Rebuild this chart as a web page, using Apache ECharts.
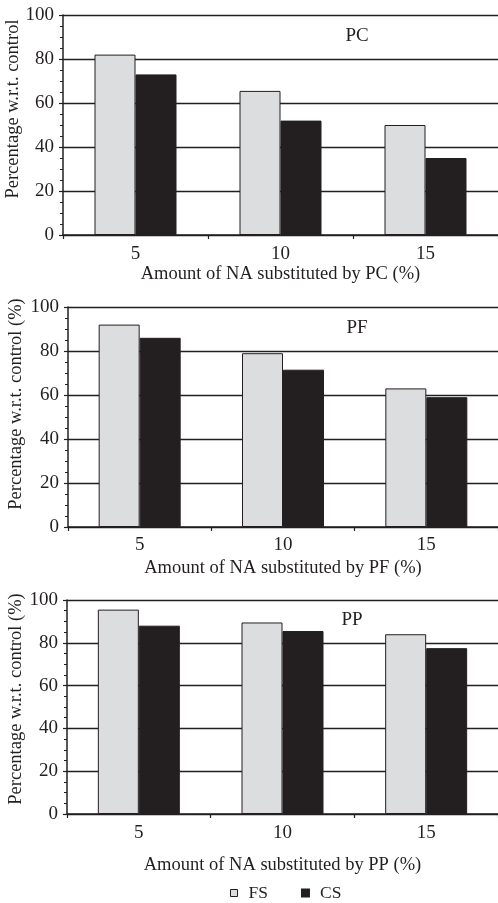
<!DOCTYPE html>
<html>
<head>
<meta charset="utf-8">
<script src="https://cdn.jsdelivr.net/npm/echarts@6/dist/echarts.min.js"></script>
<style>
html,body{margin:0;padding:0;background:#fff;}
#chart{width:498px;height:903px;}
</style>
</head>
<body>
<div id="chart"></div>
<script>
var categories = ['5', '10', '15'];
var seriesNames = ['FS', 'CS'];
var panelLabels = ['PC', 'PF', 'PP'];
var xNames = ['Amount of NA substituted by PC (%)', 'Amount of NA substituted by PF (%)', 'Amount of NA substituted by PP (%)'];
var yNames = ['Percentage w.r.t. control', 'Percentage w.r.t. control (%)', 'Percentage w.r.t. control (%)'];
var pcFS = [82, 65.5, 50];
var pcCS = [73, 52, 35];
var pfFS = [92, 79, 63];
var pfCS = [86, 71.5, 59];
var ppFS = [95.5, 89.5, 84];
var ppCS = [88, 85.5, 77.5];

var dataFS = [pcFS, pfFS, ppFS];
var dataCS = [pcCS, pfCS, ppCS];

var FONT = 'Liberation Serif';
var INK = '#231f20';
var LIGHT = '#dcdddf';

var grids = [
  {left: 63, top: 15, right: 0, height: 220, containLabel: false, outerBoundsMode: 'none'},
  {left: 68, top: 307, right: 0, height: 220, containLabel: false, outerBoundsMode: 'none'},
  {left: 67, top: 600, right: 0, height: 214, containLabel: false, outerBoundsMode: 'none'}
];
var xNameGaps = [30, 32, 42];
var xLabelMargins = [10, 9, 10];
var yNameGaps = [40, 42, 41];
var yNameShift = [32, 26, 16];
var labelPos = [[357, 27], [357, 319], [352, 611]];

var xAxes = [], yAxes = [], series = [], titles = [];
for (var i = 0; i < 3; i++) {
  xAxes.push({
    type: 'category', gridIndex: i, data: categories,
    name: xNames[i], nameLocation: 'middle', nameGap: xNameGaps[i], nameMoveOverlap: false,
    nameTextStyle: {fontFamily: FONT, fontSize: 18.5, color: INK},
    axisLine: {lineStyle: {color: INK, width: 1.5}},
    axisTick: {show: true, length: 4, lineStyle: {color: INK, width: 1.2}},
    axisLabel: {fontFamily: FONT, fontSize: 19, color: INK, margin: xLabelMargins[i]},
    splitLine: {show: false}
  });
  yAxes.push({
    type: 'value', gridIndex: i, min: 0, max: 100, interval: 20,
    name: yNames[i], nameLocation: 'middle', nameGap: yNameGaps[i], nameRotate: 90, nameMoveOverlap: false,
    nameTextStyle: {fontFamily: FONT, fontSize: 18.5, color: INK, padding: [0, 0, 0, yNameShift[i]]},
    axisLine: {show: true, lineStyle: {color: INK, width: 1.5}},
    axisTick: {show: true, length: 4, lineStyle: {color: INK, width: 1.2}},
    minorTick: {show: true, splitNumber: 4, length: 3, lineStyle: {color: INK, width: 1}},
    axisLabel: {fontFamily: FONT, fontSize: 19, color: INK, margin: 9},
    splitLine: {show: true, lineStyle: {color: INK, width: 1.3}}
  });
  series.push({
    name: seriesNames[0], type: 'bar', xAxisIndex: i, yAxisIndex: i,
    data: dataFS[i], barWidth: 41, barGap: '0%',
    itemStyle: {color: LIGHT, borderColor: INK, borderWidth: 1}
  });
  series.push({
    name: seriesNames[1], type: 'bar', xAxisIndex: i, yAxisIndex: i,
    data: dataCS[i], barWidth: 41, barGap: '0%',
    itemStyle: {color: INK, borderColor: INK, borderWidth: 1}
  });
  titles.push({
    text: panelLabels[i], left: labelPos[i][0], top: labelPos[i][1], textAlign: 'center',
    padding: 0,
    textStyle: {fontFamily: FONT, fontSize: 19, fontWeight: 'normal', color: INK}
  });
}

var chart = echarts.init(document.getElementById('chart'), null, {renderer: 'canvas'});
chart.setOption({
  animation: false,
  backgroundColor: '#fff',
  title: titles,
  grid: grids,
  xAxis: xAxes,
  yAxis: yAxes,
  legend: {
    data: [
      {name: 'FS', itemStyle: {color: LIGHT, borderColor: INK, borderWidth: 1}},
      {name: 'CS'}
    ],
    left: 230, top: 884, padding: 0,
    icon: 'rect', itemWidth: 7, itemHeight: 7, itemGap: 33,
    textStyle: {fontFamily: FONT, fontSize: 17.5, color: INK, padding: [0, 0, 0, 6]}
  },
  series: series
});
</script>
</body>
</html>
